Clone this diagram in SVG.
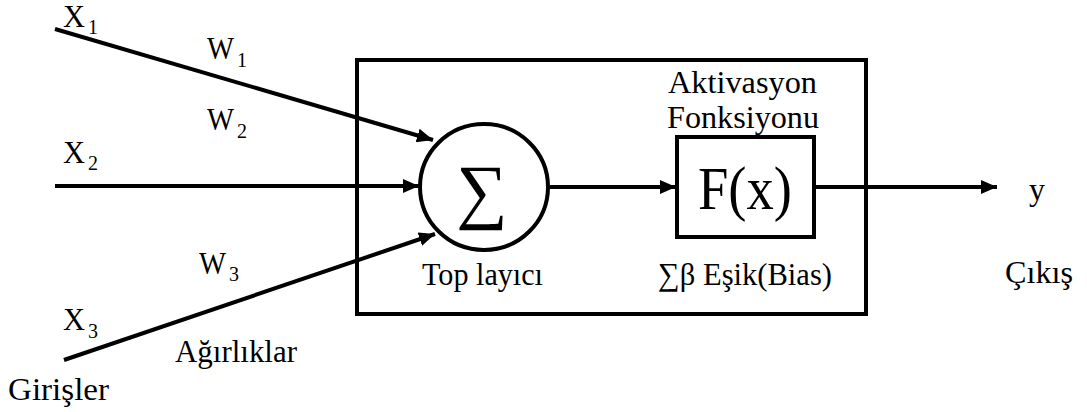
<svg xmlns="http://www.w3.org/2000/svg" width="1087" height="412" viewBox="0 0 1087 412">
  <style>
    text { font-family: "Liberation Serif", "Times New Roman", serif; fill: #000; }
    .lbl { font-size: 32px; }
    .sub { font-size: 20px; }
    .edge { stroke: #000; stroke-width: 4; fill: none; }
    .frame { stroke: #000; stroke-width: 4; fill: #fff; }
  </style>
  <defs>
    <marker id="arrow" markerUnits="userSpaceOnUse" markerWidth="18" markerHeight="14" refX="16" refY="7" orient="auto">
      <path d="M0,0 L16,7 L0,14 z" fill="#000"/>
    </marker>
  </defs>

  <rect width="1087" height="412" fill="#fff"/>

  <!-- neuron body -->
  <g id="neuron">
    <rect class="frame" x="357" y="60" width="509" height="254"/>
  </g>

  <!-- connectors -->
  <g id="connectors">
    <line class="edge" x1="55" y1="29" x2="433" y2="140" marker-end="url(#arrow)"/>
    <line class="edge" x1="55" y1="186" x2="419" y2="186" marker-end="url(#arrow)"/>
    <line class="edge" x1="64" y1="360" x2="435" y2="234" marker-end="url(#arrow)"/>
    <line class="edge" x1="550" y1="187" x2="676" y2="187" marker-end="url(#arrow)"/>
    <line class="edge" x1="816" y1="187" x2="997" y2="187" marker-end="url(#arrow)"/>
  </g>

  <!-- summation node -->
  <g id="summer">
    <ellipse class="frame" cx="484" cy="187" rx="64" ry="63"/>
    <text x="482" y="215" font-size="72" text-anchor="middle">∑</text>
    <text class="lbl" x="422" y="285" textLength="121" lengthAdjust="spacingAndGlyphs">Top layıcı</text>
  </g>

  <!-- activation function node -->
  <g id="activation">
    <rect class="frame" x="677" y="137" width="137" height="100" stroke-width="3.5"/>
    <text x="698" y="209" font-size="62" textLength="94" lengthAdjust="spacingAndGlyphs">F(x)</text>
    <text class="lbl" x="668" y="93" textLength="149" lengthAdjust="spacingAndGlyphs">Aktivasyon</text>
    <text class="lbl" x="667" y="128" textLength="152" lengthAdjust="spacingAndGlyphs">Fonksiyonu</text>
    <text class="lbl" x="658" y="285" textLength="174" lengthAdjust="spacingAndGlyphs">∑β Eşik(Bias)</text>
  </g>

  <!-- inputs -->
  <g id="input-x1">
    <text class="lbl" x="63" y="27" textLength="22" lengthAdjust="spacingAndGlyphs">X</text>
    <text class="sub" x="88" y="34">1</text>
  </g>
  <g id="input-x2">
    <text class="lbl" x="63" y="163" textLength="22" lengthAdjust="spacingAndGlyphs">X</text>
    <text class="sub" x="88" y="170">2</text>
  </g>
  <g id="input-x3">
    <text class="lbl" x="63" y="330" textLength="22" lengthAdjust="spacingAndGlyphs">X</text>
    <text class="sub" x="88" y="338">3</text>
  </g>
  <g id="inputs-label">
    <text class="lbl" x="8" y="400" textLength="101" lengthAdjust="spacingAndGlyphs">Girişler</text>
  </g>

  <!-- weights -->
  <g id="weight-w1">
    <text class="lbl" x="207" y="59" textLength="27" lengthAdjust="spacingAndGlyphs">W</text>
    <text class="sub" x="237" y="67">1</text>
  </g>
  <g id="weight-w2">
    <text class="lbl" x="207" y="130" textLength="27" lengthAdjust="spacingAndGlyphs">W</text>
    <text class="sub" x="237" y="138">2</text>
  </g>
  <g id="weight-w3">
    <text class="lbl" x="199" y="274" textLength="27" lengthAdjust="spacingAndGlyphs">W</text>
    <text class="sub" x="229" y="281">3</text>
  </g>
  <g id="weights-label">
    <text class="lbl" x="175" y="362" textLength="122" lengthAdjust="spacingAndGlyphs">Ağırlıklar</text>
  </g>

  <!-- output -->
  <g id="output">
    <text class="lbl" x="1029" y="200" textLength="16" lengthAdjust="spacingAndGlyphs">y</text>
    <text class="lbl" x="1005" y="283" textLength="68" lengthAdjust="spacingAndGlyphs">Çıkış</text>
  </g>
</svg>
